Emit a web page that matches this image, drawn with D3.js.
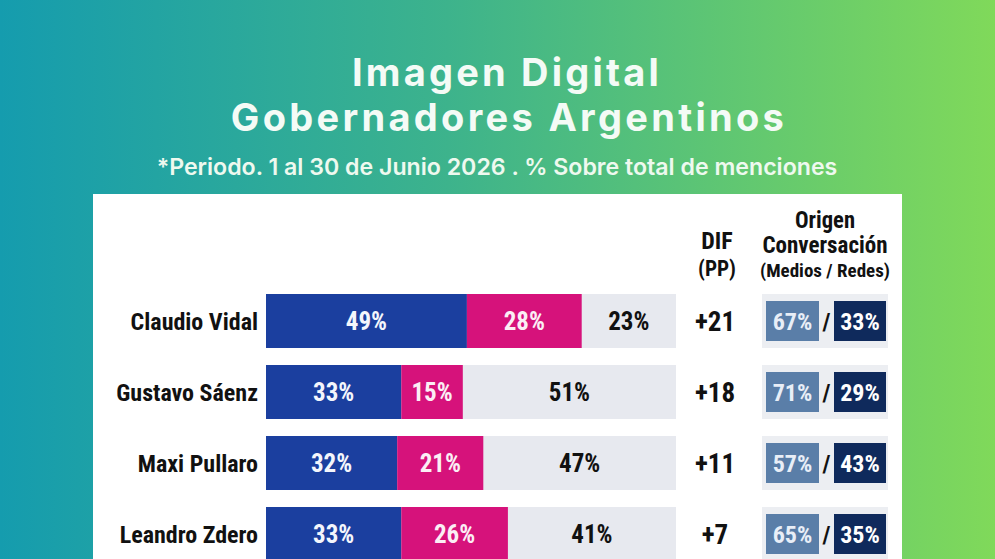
<!DOCTYPE html>
<html>
<head>
<meta charset="utf-8">
<script src="https://cdn.jsdelivr.net/npm/d3@7"></script>
<style>
  html, body { margin: 0; padding: 0; overflow: hidden; }
  .cond { font-family: "Roboto Condensed", "Liberation Sans Narrow", "DejaVu Sans Condensed", Roboto, sans-serif; font-stretch: condensed; font-weight: 700; }
</style>
</head>
<body>
<div id="chart"></div>
<script>
const W = 995, H = 559

const names = ["Claudio Vidal", "Gustavo Sáenz", "Maxi Pullaro", "Leandro Zdero"]
const positive = [49, 33, 32, 33]
const negative = [28, 15, 21, 26]
const neutral = [23, 51, 47, 41]
const dif = ["+21", "+18", "+11", "+7"]
const medios = [67, 71, 57, 65]
const redes = [33, 29, 43, 35]

const rows = names.map((n, i) => ({
  name: n, pos: positive[i], neg: negative[i], neu: neutral[i],
  dif: dif[i], medios: medios[i], redes: redes[i]
}))

const svg = d3.select("#chart").append("svg")
  .attr("width", W).attr("height", H)

// background gradient
const defs = svg.append("defs")
const grad = defs.append("linearGradient").attr("id", "bg")
  .attr("x1", "0%").attr("y1", "0%").attr("x2", "100%").attr("y2", "0%")
grad.append("stop").attr("offset", "0%").attr("stop-color", "#159cae")
grad.append("stop").attr("offset", "45%").attr("stop-color", "#3db38c")
grad.append("stop").attr("offset", "100%").attr("stop-color", "#80d95a")
svg.append("rect").attr("width", W).attr("height", H).attr("fill", "url(#bg)")

// titles
const titleFont = "Inter, 'Open Sans', sans-serif"
function fitText(sel, width) {
  const w = sel.node().getComputedTextLength()
  const fs = parseFloat(sel.attr("font-size"))
  sel.attr("font-size", fs * width / w)
}
function spreadText(sel, width) {
  const w = sel.node().getComputedTextLength()
  const n = sel.text().length
  sel.attr("letter-spacing", (width - w) / (n - 1))
}
// squeeze a text horizontally when it is wider than the reference
function squeeze(sel, width) {
  sel.each(function () {
    const w = this.getComputedTextLength()
    if (w > width) d3.select(this).attr("textLength", width).attr("lengthAdjust", "spacingAndGlyphs")
  })
}
const t1 = svg.append("text").attr("x", 507).attr("y", 86)
  .attr("text-anchor", "middle").attr("fill", "#f4fbf6")
  .attr("font-family", titleFont).attr("font-weight", 700).attr("font-size", 38)
  .text("Imagen Digital")
spreadText(t1, 307)
const t2 = svg.append("text").attr("x", 509).attr("y", 131)
  .attr("text-anchor", "middle").attr("fill", "#f4fbf6")
  .attr("font-family", titleFont).attr("font-weight", 700).attr("font-size", 38)
  .text("Gobernadores Argentinos")
spreadText(t2, 553)
const st = svg.append("text").attr("x", 497).attr("y", 175)
  .attr("text-anchor", "middle").attr("fill", "#eef9ef")
  .attr("font-family", titleFont).attr("font-weight", 600).attr("font-size", 20)
  .text("*Periodo. 1 al 30 de Junio 2026 . % Sobre total de menciones")
fitText(st, 681)

// white panel
svg.append("rect").attr("x", 93).attr("y", 194).attr("width", 809).attr("height", 400)
  .attr("fill", "#ffffff")

// scales
const x = d3.scaleLinear().domain([0, 100]).range([266, 676])
const y = d3.scaleBand().domain(names).range([294, 561]).paddingInner(17 / 71)
const bh = y.bandwidth()

const g = svg.append("g")
const row = g.selectAll("g.row").data(rows).join("g").attr("class", "row")
  .attr("transform", d => `translate(0,${y(d.name)})`)

// neutral background (rest of 100%)
row.append("rect").attr("x", x(0)).attr("width", x(100) - x(0))
  .attr("height", bh).attr("fill", "#e7e9ef")
row.append("rect").attr("x", x(0)).attr("width", d => x(d.pos) - x(0))
  .attr("height", bh).attr("fill", "#1b3f9f")
row.append("rect").attr("x", d => x(d.pos)).attr("width", d => x(d.pos + d.neg) - x(d.pos))
  .attr("height", bh).attr("fill", "#d6127b")

const valSize = 25
row.append("text").attr("class", "cond")
  .attr("x", d => (x(0) + x(d.pos)) / 2).attr("y", bh / 2).attr("dy", "0.36em")
  .attr("text-anchor", "middle").attr("fill", "#f4f6fc").attr("font-size", valSize)
  .text(d => d.pos + "%")
row.append("text").attr("class", "cond")
  .attr("x", d => (x(d.pos) + x(d.pos + d.neg)) / 2).attr("y", bh / 2).attr("dy", "0.36em")
  .attr("text-anchor", "middle").attr("fill", "#fbeef5").attr("font-size", valSize)
  .text(d => d.neg + "%")
row.append("text").attr("class", "cond")
  .attr("x", d => (x(d.pos + d.neg) + x(100)) / 2).attr("y", bh / 2).attr("dy", "0.36em")
  .attr("text-anchor", "middle").attr("fill", "#111").attr("font-size", valSize)
  .text(d => d.neu + "%")

// names
row.append("text").attr("class", "cond")
  .attr("x", 258).attr("y", bh / 2).attr("dy", "0.36em")
  .attr("text-anchor", "end").attr("fill", "#111").attr("font-size", 24)
  .text(d => d.name)

// DIF column
row.append("text").attr("class", "cond")
  .attr("x", 715).attr("y", bh / 2).attr("dy", "0.36em")
  .attr("text-anchor", "middle").attr("fill", "#111").attr("font-size", 27)
  .text(d => d.dif)

// origen column
row.append("rect").attr("x", 762).attr("y", 0).attr("width", 126).attr("height", bh)
  .attr("fill", "#eceef2")
row.append("rect").attr("x", 766).attr("y", 7).attr("width", 53).attr("height", bh - 14)
  .attr("fill", "#5a7ea8")
row.append("rect").attr("x", 834).attr("y", 7).attr("width", 52).attr("height", bh - 14)
  .attr("fill", "#0f2a5c")
row.append("text").attr("class", "cond")
  .attr("x", 792.5).attr("y", bh / 2).attr("dy", "0.36em")
  .attr("text-anchor", "middle").attr("fill", "#e8eef7").attr("font-size", 24)
  .text(d => d.medios + "%")
  .call(squeeze, 45)
row.append("text").attr("class", "cond")
  .attr("x", 826.5).attr("y", bh / 2).attr("dy", "0.36em")
  .attr("text-anchor", "middle").attr("fill", "#111").attr("font-size", 24)
  .text("/")
row.append("text").attr("class", "cond")
  .attr("x", 860).attr("y", bh / 2).attr("dy", "0.36em")
  .attr("text-anchor", "middle").attr("fill", "#fff").attr("font-size", 24)
  .text(d => d.redes + "%")
  .call(squeeze, 45)

// headers
const hdr = svg.append("g").attr("class", "cond").attr("fill", "#111").attr("text-anchor", "middle")
hdr.append("text").attr("x", 717).attr("y", 249).attr("font-size", 24).text("DIF").call(squeeze, 32)
hdr.append("text").attr("x", 717).attr("y", 276).attr("font-size", 22).text("(PP)").call(squeeze, 38)
hdr.append("text").attr("x", 825).attr("y", 228).attr("font-size", 23).text("Origen").call(squeeze, 60)
hdr.append("text").attr("x", 825).attr("y", 253).attr("font-size", 23).text("Conversación").call(squeeze, 129)
hdr.append("text").attr("x", 825).attr("y", 277).attr("font-size", 19).text("(Medios / Redes)").call(squeeze, 137)
</script>
</body>
</html>
